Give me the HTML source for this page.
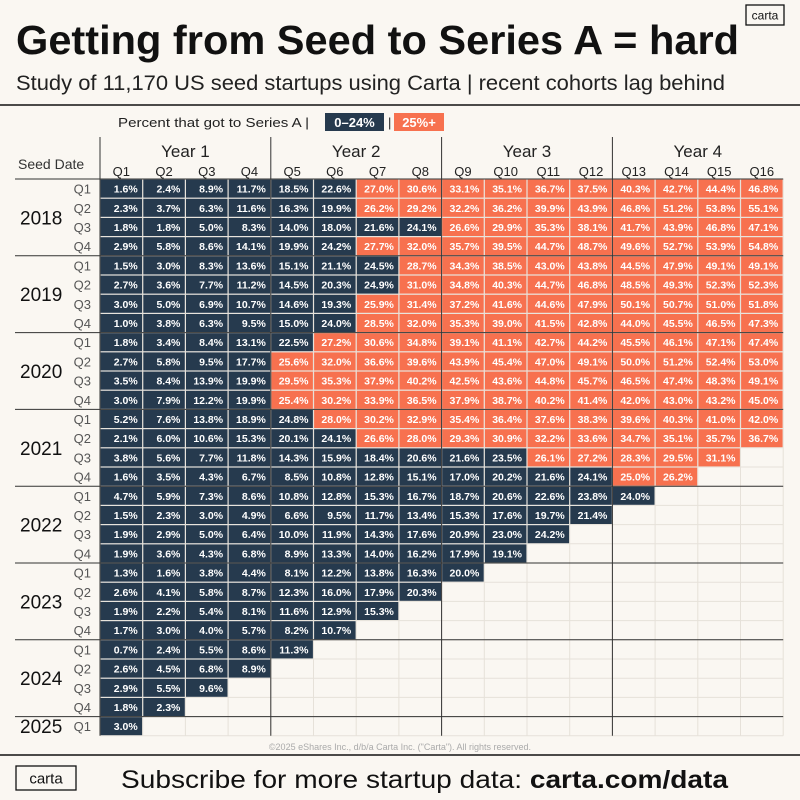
<!DOCTYPE html>
<html><head><meta charset="utf-8"><style>
html,body{margin:0;padding:0;background:#faf7f2;}
svg{display:block;font-family:"Liberation Sans",sans-serif;}
</style></head><body>
<svg id="chart" width="800" height="800" viewBox="0 0 800 800" xmlns="http://www.w3.org/2000/svg">
<rect width="800" height="800" fill="#faf7f2"/>
<g><rect x="746" y="5" width="38" height="20" fill="none" stroke="#111" stroke-width="1.3"/><text x="765" y="19.5" font-size="12" text-anchor="middle" fill="#111">carta</text></g>
<text x="16" y="54" font-size="41" font-weight="bold" fill="#111" textLength="723" lengthAdjust="spacingAndGlyphs">Getting from Seed to Series A = hard</text>
<text x="16" y="90" font-size="21" fill="#222" textLength="709" lengthAdjust="spacingAndGlyphs">Study of 11,170 US seed startups using Carta | recent cohorts lag behind</text>
<line x1="0" y1="105" x2="800" y2="105" stroke="#111" stroke-width="1.5"/>
<g>
<text x="118" y="127" font-size="13" fill="#222" textLength="191" lengthAdjust="spacingAndGlyphs">Percent that got to Series A  |</text>
<rect x="325" y="113" width="59" height="18" fill="#263a4e"/><text x="354.5" y="127" font-size="13" font-weight="bold" fill="#fff" text-anchor="middle">0–24%</text>
<text x="388" y="127" font-size="13" fill="#222">|</text>
<rect x="394" y="113" width="50" height="18" fill="#f7714f"/><text x="419" y="127" font-size="13" font-weight="bold" fill="#fff" text-anchor="middle">25%+</text>
</g>
<text x="18" y="169" font-size="14" fill="#333">Seed Date</text>
<g id="grid"></g>
<text x="400" y="750" font-size="9" fill="#aaa" text-anchor="middle">©2025 eShares Inc., d/b/a Carta Inc. ("Carta"). All rights reserved.</text>
<line x1="0" y1="755" x2="800" y2="755" stroke="#111" stroke-width="1.5"/>
<g><rect x="16" y="766" width="60" height="24" fill="none" stroke="#111" stroke-width="1.3"/><text x="46" y="783.5" font-size="15" text-anchor="middle" fill="#111">carta</text></g>
<text x="121" y="788" font-size="25" fill="#111" textLength="607" lengthAdjust="spacingAndGlyphs">Subscribe for more startup data: <tspan font-weight="bold">carta.com/data</tspan></text>
</svg>
<script>
const years=["2018","2019","2020","2021","2022","2023","2024","2025"];
const quarters=["Q1","Q2","Q3","Q4"];
const colLabels=["Q1","Q2","Q3","Q4","Q5","Q6","Q7","Q8","Q9","Q10","Q11","Q12","Q13","Q14","Q15","Q16"];
const yearGroups=["Year 1","Year 2","Year 3","Year 4"];
const values=[
[1.6,2.4,8.9,11.7,18.5,22.6,27.0,30.6,33.1,35.1,36.7,37.5,40.3,42.7,44.4,46.8],
[2.3,3.7,6.3,11.6,16.3,19.9,26.2,29.2,32.2,36.2,39.9,43.9,46.8,51.2,53.8,55.1],
[1.8,1.8,5.0,8.3,14.0,18.0,21.6,24.1,26.6,29.9,35.3,38.1,41.7,43.9,46.8,47.1],
[2.9,5.8,8.6,14.1,19.9,24.2,27.7,32.0,35.7,39.5,44.7,48.7,49.6,52.7,53.9,54.8],
[1.5,3.0,8.3,13.6,15.1,21.1,24.5,28.7,34.3,38.5,43.0,43.8,44.5,47.9,49.1,49.1],
[2.7,3.6,7.7,11.2,14.5,20.3,24.9,31.0,34.8,40.3,44.7,46.8,48.5,49.3,52.3,52.3],
[3.0,5.0,6.9,10.7,14.6,19.3,25.9,31.4,37.2,41.6,44.6,47.9,50.1,50.7,51.0,51.8],
[1.0,3.8,6.3,9.5,15.0,24.0,28.5,32.0,35.3,39.0,41.5,42.8,44.0,45.5,46.5,47.3],
[1.8,3.4,8.4,13.1,22.5,27.2,30.6,34.8,39.1,41.1,42.7,44.2,45.5,46.1,47.1,47.4],
[2.7,5.8,9.5,17.7,25.6,32.0,36.6,39.6,43.9,45.4,47.0,49.1,50.0,51.2,52.4,53.0],
[3.5,8.4,13.9,19.9,29.5,35.3,37.9,40.2,42.5,43.6,44.8,45.7,46.5,47.4,48.3,49.1],
[3.0,7.9,12.2,19.9,25.4,30.2,33.9,36.5,37.9,38.7,40.2,41.4,42.0,43.0,43.2,45.0],
[5.2,7.6,13.8,18.9,24.8,28.0,30.2,32.9,35.4,36.4,37.6,38.3,39.6,40.3,41.0,42.0],
[2.1,6.0,10.6,15.3,20.1,24.1,26.6,28.0,29.3,30.9,32.2,33.6,34.7,35.1,35.7,36.7],
[3.8,5.6,7.7,11.8,14.3,15.9,18.4,20.6,21.6,23.5,26.1,27.2,28.3,29.5,31.1],
[1.6,3.5,4.3,6.7,8.5,10.8,12.8,15.1,17.0,20.2,21.6,24.1,25.0,26.2],
[4.7,5.9,7.3,8.6,10.8,12.8,15.3,16.7,18.7,20.6,22.6,23.8,24.0],
[1.5,2.3,3.0,4.9,6.6,9.5,11.7,13.4,15.3,17.6,19.7,21.4],
[1.9,2.9,5.0,6.4,10.0,11.9,14.3,17.6,20.9,23.0,24.2],
[1.9,3.6,4.3,6.8,8.9,13.3,14.0,16.2,17.9,19.1],
[1.3,1.6,3.8,4.4,8.1,12.2,13.8,16.3,20.0],
[2.6,4.1,5.8,8.7,12.3,16.0,17.9,20.3],
[1.9,2.2,5.4,8.1,11.6,12.9,15.3],
[1.7,3.0,4.0,5.7,8.2,10.7],
[0.7,2.4,5.5,8.6,11.3],
[2.6,4.5,6.8,8.9],
[2.9,5.5,9.6],
[1.8,2.3],
[3.0]
];
const threshold=25;
const NS="http://www.w3.org/2000/svg";
const g=document.getElementById('grid');
const X0=100,CW=42.7,Y0=179,RH=19.2;
const xs=i=>X0+i*CW, ys=r=>Y0+r*RH;
function el(tag,attrs,txt){const e=document.createElementNS(NS,tag);for(const k in attrs)e.setAttribute(k,attrs[k]);if(txt!==undefined)e.textContent=txt;g.appendChild(e);return e;}
const nRows=values.length, nCols=colLabels.length;
// faint grid
for(let c=0;c<=nCols;c++)el('line',{x1:xs(c),y1:Y0,x2:xs(c),y2:ys(nRows),stroke:'#e6e1d9','stroke-width':1});
for(let r=0;r<=nRows;r++)el('line',{x1:X0,y1:ys(r),x2:xs(nCols),y2:ys(r),stroke:'#e6e1d9','stroke-width':1});
// cells
values.forEach((row,r)=>{row.forEach((v,c)=>{
  const rect=el('rect',{x:xs(c)+0.6,y:ys(r)+0.6,width:CW-1.2,height:RH-1.2,fill:v>=threshold?'#f7714f':'#263a4e'});
  
  
  const t=el('text',{x:xs(c)+CW-5,y:ys(r)+RH/2+4,'font-size':10.5,'font-weight':'bold',fill:'#fff','text-anchor':'end'},v.toFixed(1)+'%');
  
  
});});
// row labels
let r=0;
years.forEach((y,yi)=>{
  const n=yi===years.length-1?1:4;
  const yl=el('text',{x:20,y:ys(r)+n*RH/2+7,'font-size':19,fill:'#111'},y);
  
  
  for(let q=0;q<n;q++){
    const ql=el('text',{x:91,y:ys(r+q)+RH/2+5,'font-size':13,fill:'#555','text-anchor':'end'},quarters[q]);
    
    
  }
  if(yi>0)el('line',{x1:15,y1:ys(r),x2:xs(nCols),y2:ys(r),stroke:'#333','stroke-width':1});
  r+=n;
});
el('line',{x1:15,y1:Y0,x2:xs(nCols),y2:Y0,stroke:'#333','stroke-width':1});
// column headers
colLabels.forEach((c,i)=>{
  const t=el('text',{x:xs(i)+CW/2,y:176,'font-size':13,fill:'#222','text-anchor':'middle'},c);
  
  
});
yearGroups.forEach((yg,i)=>{
  const t=el('text',{x:xs(i*4)+2*CW,y:157,'font-size':17,fill:'#222','text-anchor':'middle'},yg);
  
  
  el('line',{x1:xs(i*4),y1:137,x2:xs(i*4),y2:ys(nRows),stroke:'#333','stroke-width':1});
});
</script>
</body></html>
